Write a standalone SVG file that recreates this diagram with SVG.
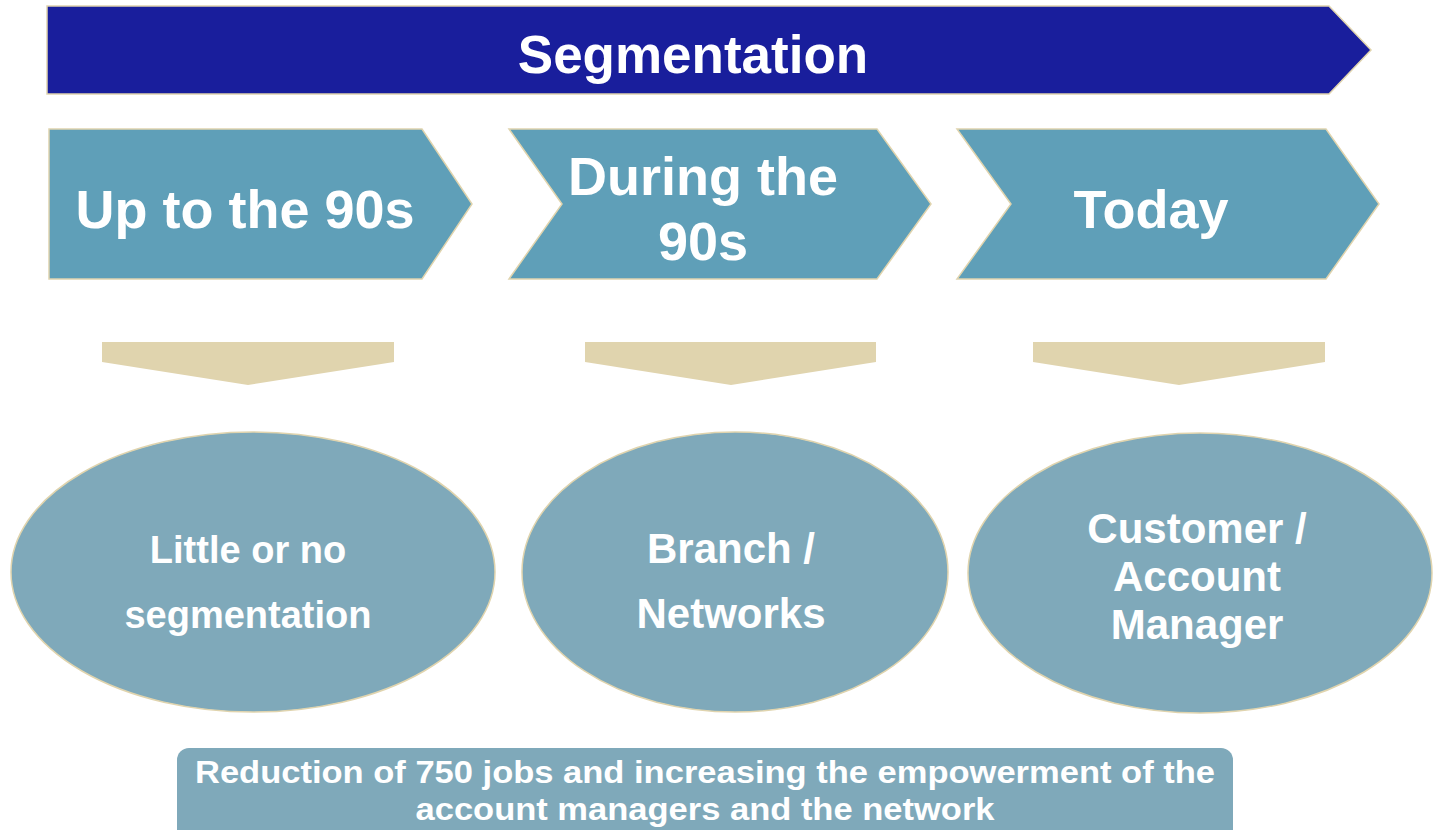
<svg xmlns="http://www.w3.org/2000/svg" width="1433" height="830" viewBox="0 0 1433 830">
<style>
text{font-family:"Liberation Sans",Arial,sans-serif;font-weight:bold;fill:#FFFFFF;text-anchor:middle}
.banner{fill:#191E9C;stroke:#E0D4AE;stroke-width:1.5}
.chev{fill:#5F9FB8;stroke:#E0D4AE;stroke-width:1.5}
.down{fill:#E0D4AE}
.oval{fill:#7FA9BA;stroke:#E0D4AE;stroke-width:1.5}
.t54{font-size:54px}
.t38{font-size:38px}
.t42{font-size:42px}
</style>
<rect width="1433" height="830" fill="#FFFFFF"/>
<g id="banner">
<polygon class="banner" points="47,6 1329,6 1371,50 1329,94 47,94"/>
<text x="693" y="73" style="font-size:53px">Segmentation</text>
</g>
<g id="chevron-1">
<polygon class="chev" points="49,129 422,129 472,204 422,279 49,279"/>
<text class="t54" x="245" y="228">Up to the 90s</text>
</g>
<g id="chevron-2">
<polygon class="chev" points="509,129 877,129 931,204 877,279 509,279 562,204"/>
<text class="t54" x="703" y="195">During the</text>
<text class="t54" x="703" y="260">90s</text>
</g>
<g id="chevron-3">
<polygon class="chev" points="957,129 1326,129 1379,204 1326,279 957,279 1011,204"/>
<text class="t54" x="1151" y="228">Today</text>
</g>
<g id="connectors">
<polygon class="down" points="102,342 394,342 394,362 248,385 102,362"/>
<polygon class="down" points="585,342 876,342 876,362 731,385 585,362"/>
<polygon class="down" points="1033,342 1325,342 1325,362 1179,385 1033,362"/>
</g>
<g id="oval-1">
<ellipse class="oval" cx="253" cy="572" rx="242" ry="140"/>
<text class="t38" x="248" y="563">Little or no</text>
<text class="t38" x="248" y="628">segmentation</text>
</g>
<g id="oval-2">
<ellipse class="oval" cx="735" cy="572" rx="213" ry="140"/>
<text class="t42" x="731" y="563">Branch /</text>
<text class="t42" x="731" y="628">Networks</text>
</g>
<g id="oval-3">
<ellipse class="oval" cx="1200" cy="573" rx="232" ry="140"/>
<text class="t42" x="1197" y="543">Customer /</text>
<text class="t42" x="1197" y="591">Account</text>
<text class="t42" x="1197" y="639">Manager</text>
</g>
<g id="summary">
<rect x="177" y="748" width="1056" height="100" rx="12" ry="12" fill="#7FA9BA"/>
<text x="705" y="783" style="font-size:31px" textLength="1020" lengthAdjust="spacingAndGlyphs">Reduction of 750 jobs and increasing the empowerment of the</text>
<text x="705" y="820" style="font-size:31px" textLength="579" lengthAdjust="spacingAndGlyphs">account managers and the network</text>
</g>
</svg>
